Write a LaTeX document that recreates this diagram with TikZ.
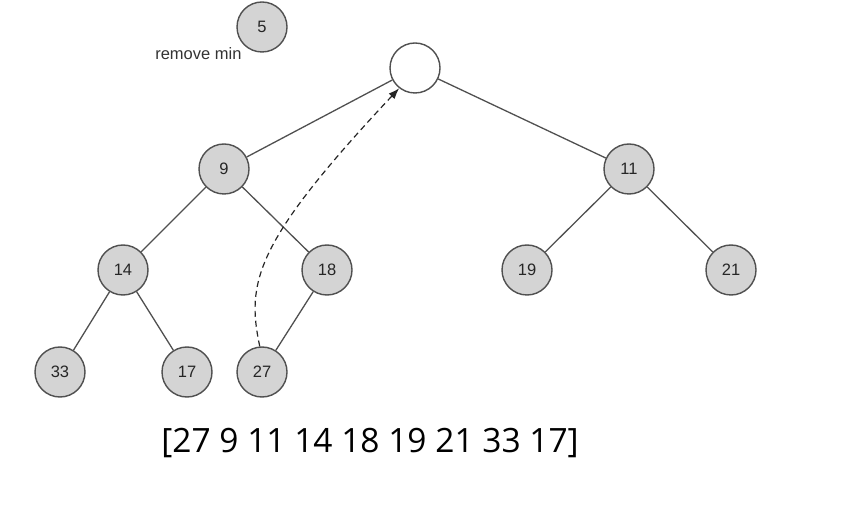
\documentclass[tikz,border=0pt]{standalone}
\usepackage{fontspec}
\setmainfont{Liberation Sans}
\newfontfamily\arrfont{Open Sans}
\usetikzlibrary{arrows.meta}
\definecolor{edgegray}{HTML}{505050}
\definecolor{nodefill}{HTML}{D4D4D4}
\begin{document}
\begin{tikzpicture}[x=1pt,y=1pt,
  hnode/.style={circle,draw=edgegray,line width=1.4pt,fill=nodefill,minimum size=50pt,inner sep=0pt,font=\fontsize{16.5}{16.5}\selectfont,text=black!85},
  emptynode/.style={hnode,fill=white},
  tree/.style={draw=edgegray,line width=1.3pt},
  move/.style={draw=black!85,line width=1.2pt,dash pattern=on 6pt off 4pt,-{Latex[length=11pt,width=8pt]}}
]
\useasboundingbox (0,0) rectangle (858,522);
\node[hnode] (n5) at (262,495) {5};
\node[anchor=base east,font=\fontsize{16.5}{16.5}\selectfont,text=black!80] (rm) at (245,462) {remove min};
\node[emptynode] (root) at (415,454) {};
\node[hnode] (n9) at (224,353) {9};
\node[hnode] (n11) at (629,353) {11};
\node[hnode] (n14) at (123,252) {14};
\node[hnode] (n18) at (327,252) {18};
\node[hnode] (n19) at (527,252) {19};
\node[hnode] (n21) at (731,252) {21};
\node[hnode] (n33) at (60,150) {33};
\node[hnode] (n17) at (187,150) {17};
\node[hnode] (n27) at (262,150) {27};
\draw[tree] (root) -- (n9);
\draw[tree] (root) -- (n11);
\draw[tree] (n9) -- (n14);
\draw[tree] (n9) -- (n18);
\draw[tree] (n11) -- (n19);
\draw[tree] (n11) -- (n21);
\draw[tree] (n14) -- (n33);
\draw[tree] (n14) -- (n17);
\draw[tree] (n18) -- (n27);
\draw[move] (n27.95) .. controls (246,240) and (255,280) .. (root.232);
\node[font=\arrfont\fontsize{33.5}{33.5}\selectfont] (arr) at (370,79) {[27 9 11 14 18 19 21 33 17]};
\end{tikzpicture}
\end{document}
